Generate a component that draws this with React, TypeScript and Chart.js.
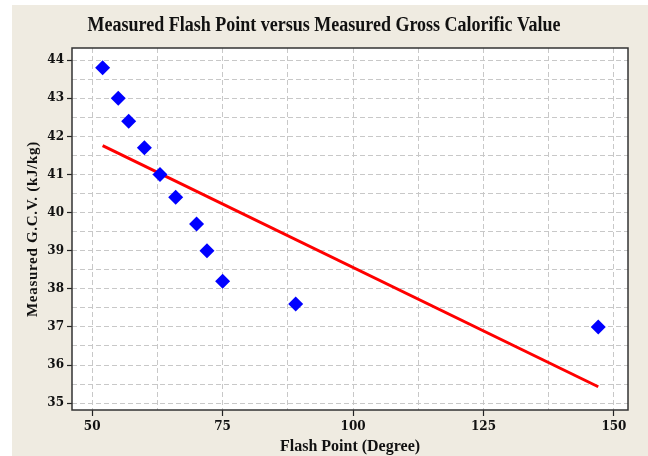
import React, { useEffect, useRef } from 'react';
import { Chart, registerables } from 'chart.js';

Chart.register(...registerables);

// Data
const flashPoint = [52, 55, 57, 60, 63, 66, 70, 72, 75, 89, 147];
const measuredGCV = [43.8, 43.0, 42.4, 41.7, 41.0, 40.4, 39.7, 39.0, 38.2, 37.6, 37.0];
const fitFlash = [52, 147];
const fitGCV = [41.76, 35.43];

const xLabelTicks = [50, 75, 100, 125, 150];
const xGridValues = [50, 62.5, 75, 87.5, 100, 112.5, 125, 137.5, 150];
const yLabelTicks = [35, 36, 37, 38, 39, 40, 41, 42, 43, 44];
const yGridValues = [35, 35.5, 36, 36.5, 37, 37.5, 38, 38.5, 39, 39.5, 40, 40.5, 41, 41.5, 42, 42.5, 43, 43.5, 44];

const titleText = 'Measured Flash Point versus Measured Gross Calorific Value';
const xTitle = 'Flash Point (Degree)';
const yTitle = 'Measured G.C.V. (kJ/kg)';

const BG = '#EFEBE1';

const backgroundPlugin = {
  id: 'bgPlugin',
  beforeDraw(chart: any) {
    const { ctx, chartArea } = chart;
    ctx.save();
    ctx.fillStyle = '#FFFFFF';
    ctx.fillRect(0, 0, chart.width, chart.height);
    ctx.fillStyle = BG;
    ctx.fillRect(12, 5, chart.width - 12, chart.height - 5);
    ctx.fillStyle = '#FFFFFF';
    ctx.fillRect(chartArea.left, chartArea.top, chartArea.right - chartArea.left, chartArea.bottom - chartArea.top);
    ctx.restore();
  },
  afterDatasetsDraw(chart: any) {
    const { ctx, chartArea } = chart;
    ctx.save();
    ctx.strokeStyle = '#333333';
    ctx.lineWidth = 1.5;
    ctx.strokeRect(chartArea.left, chartArea.top, chartArea.right - chartArea.left, chartArea.bottom - chartArea.top);
    ctx.restore();
  },
  afterDraw(chart: any) {
    const { ctx, chartArea } = chart;
    ctx.save();
    // main title (condensed bold)
    ctx.fillStyle = '#111111';
    ctx.font = 'bold 20px "Liberation Serif"';
    ctx.textAlign = 'center';
    ctx.textBaseline = 'alphabetic';
    ctx.translate(324, 30.5);
    ctx.scale(0.9, 1);
    ctx.fillText(titleText, 0, 0);
    ctx.restore();

    // y axis title
    ctx.save();
    ctx.fillStyle = '#111111';
    ctx.font = 'bold 15px "Liberation Serif"';
    (ctx as any).letterSpacing = '0.7px';
    ctx.textAlign = 'center';
    ctx.textBaseline = 'alphabetic';
    ctx.translate(31.7, (chartArea.top + chartArea.bottom) / 2);
    ctx.rotate(-Math.PI / 2);
    ctx.fillText(yTitle, 0, 5);
    ctx.restore();
  },
};

export default function App() {
  const ref = useRef<HTMLCanvasElement | null>(null);

  useEffect(() => {
    if (!ref.current) return;
    const scatterData = flashPoint.map((x, i) => ({ x, y: measuredGCV[i] }));
    const fitData = fitFlash.map((x, i) => ({ x, y: fitGCV[i] }));
    const tickFont = { family: 'DejaVu Serif', weight: 'bold' as const, size: 12 };

    const chart = new Chart(ref.current, {
      type: 'scatter',
      data: {
        datasets: [
          {
            type: 'scatter',
            data: scatterData,
            pointStyle: 'rectRot',
            pointRadius: 7.5,
            pointBackgroundColor: '#0000FF',
            pointBorderColor: '#0000FF',
            pointBorderWidth: 0,
          },
          {
            type: 'line',
            data: fitData,
            borderColor: '#FF0000',
            borderWidth: 3,
            pointRadius: 0,
            fill: false,
          },
        ],
      },
      options: {
        responsive: false,
        animation: false,
        layout: { padding: { top: 48, left: 12, right: 20, bottom: 0 } },
        plugins: {
          legend: { display: false },
          tooltip: { enabled: false },
          title: { display: false },
        },
        scales: {
          x: {
            type: 'linear',
            min: 46.13,
            max: 152.7,
            afterBuildTicks: (scale: any) => {
              scale.ticks = xGridValues.map((v) => ({ value: v }));
            },
            afterFit: (scale: any) => {
              scale.height = 46;
            },
            ticks: {
              autoSkip: false,
              maxRotation: 0,
              padding: 4,
              color: '#111111',
              font: tickFont,
              callback: (v: any) => (xLabelTicks.includes(Number(v)) ? String(v) : ''),
            },
            grid: {
              color: '#C8C8C8',
              lineWidth: 1,
              drawTicks: true,
              tickLength: 6,
              tickColor: (c: any) => (c.tick && xLabelTicks.includes(c.tick.value) ? '#222222' : 'rgba(0,0,0,0)'),
              tickWidth: 1.2,
            },
            border: { display: false, dash: [5, 3] },
            title: {
              display: true,
              text: xTitle,
              color: '#111111',
              font: { family: 'Liberation Serif', weight: 'bold', size: 16 },
              padding: { top: 0, bottom: 0 },
            },
          },
          y: {
            type: 'linear',
            min: 34.82,
            max: 44.32,
            afterBuildTicks: (scale: any) => {
              scale.ticks = yGridValues.map((v) => ({ value: v }));
            },
            afterFit: (scale: any) => {
              scale.width = 60;
            },
            ticks: {
              autoSkip: false,
              padding: 3,
              color: '#111111',
              font: tickFont,
              callback: (v: any) => (yLabelTicks.includes(Number(v)) ? String(v) : ''),
            },
            grid: {
              color: '#C8C8C8',
              lineWidth: 1,
              drawTicks: true,
              tickLength: 5,
              tickColor: (c: any) => (c.tick && yLabelTicks.includes(c.tick.value) ? '#222222' : 'rgba(0,0,0,0)'),
              tickWidth: 1.2,
            },
            border: { display: false, dash: [5, 3] },
            title: { display: false },
          },
        },
      },
      plugins: [backgroundPlugin],
    });
    return () => chart.destroy();
  }, []);

  return (
    <div style={{ position: 'absolute', left: 0, top: 0, width: 648, height: 456 }}>
      <canvas ref={ref} width={648} height={456} style={{ display: 'block' }} />
    </div>
  );
}
